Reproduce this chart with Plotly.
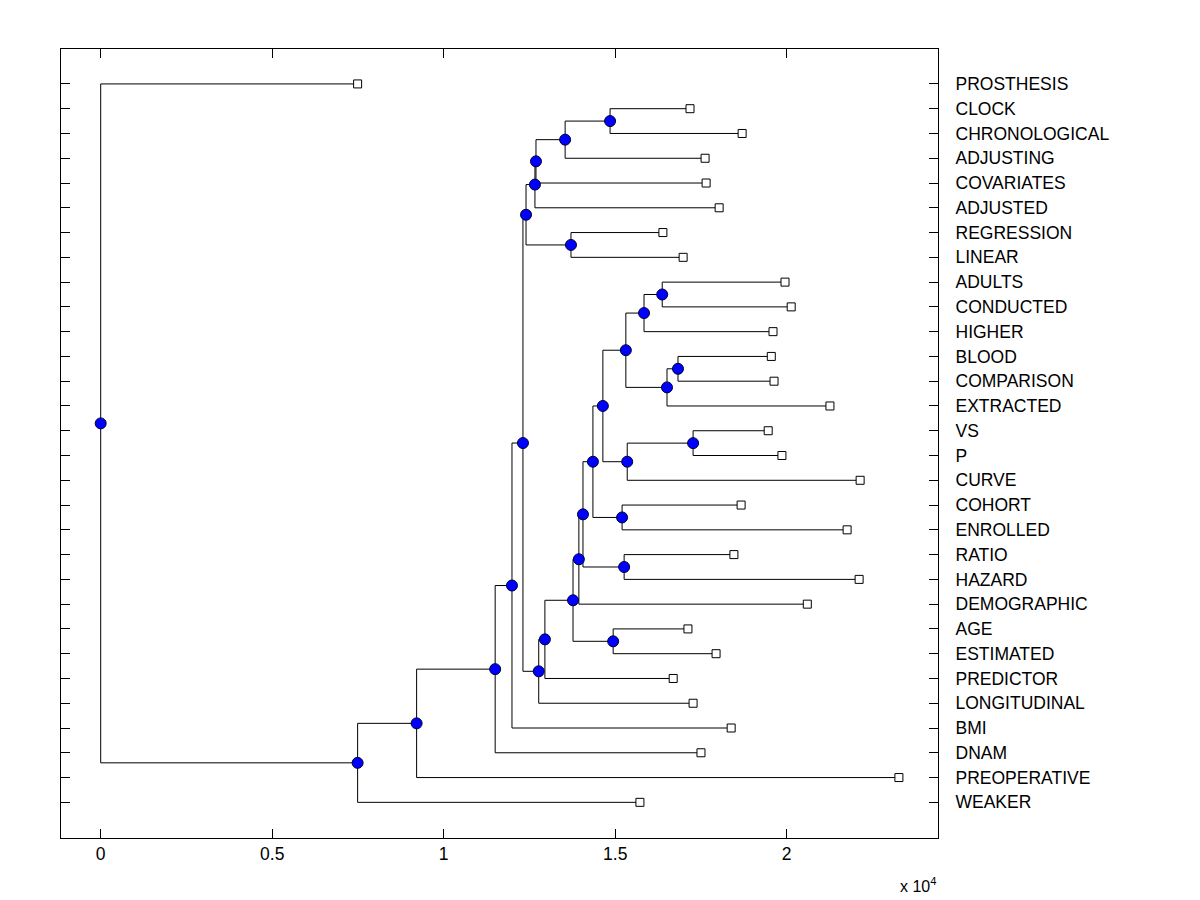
import plotly.graph_objects as go

# leaves, top to bottom, and the x (x 10^4) where each leaf ends
leaf_names = ['PROSTHESIS', 'CLOCK', 'CHRONOLOGICAL', 'ADJUSTING', 'COVARIATES',
              'ADJUSTED', 'REGRESSION', 'LINEAR', 'ADULTS', 'CONDUCTED', 'HIGHER',
              'BLOOD', 'COMPARISON', 'EXTRACTED', 'VS', 'P', 'CURVE', 'COHORT',
              'ENROLLED', 'RATIO', 'HAZARD', 'DEMOGRAPHIC', 'AGE', 'ESTIMATED',
              'PREDICTOR', 'LONGITUDINAL', 'BMI', 'DNAM', 'PREOPERATIVE', 'WEAKER']
leaf_x = [0.749, 1.718, 1.870, 1.762, 1.765, 1.803, 1.639, 1.698, 1.995, 2.013,
          1.960, 1.955, 1.963, 2.126, 1.946, 1.986, 2.214, 1.867, 2.176, 1.846,
          2.211, 2.060, 1.712, 1.794, 1.669, 1.727, 1.838, 1.750, 2.327, 1.572]

# merges: n1, n2, ... in order; children are leaf names or earlier merge ids
merge_left = ['CLOCK', 'n1', 'n2', 'n3', 'REGRESSION', 'n4', 'ADULTS', 'n7',
              'BLOOD', 'n9', 'n8', 'VS', 'n12', 'n11', 'COHORT', 'n14', 'RATIO',
              'n16', 'n18', 'AGE', 'n19', 'n21', 'n22', 'n6', 'n24', 'n25', 'n26',
              'n27', 'PROSTHESIS']
merge_right = ['CHRONOLOGICAL', 'ADJUSTING', 'COVARIATES', 'ADJUSTED', 'LINEAR',
               'n5', 'CONDUCTED', 'HIGHER', 'COMPARISON', 'EXTRACTED', 'n10', 'P',
               'CURVE', 'n13', 'ENROLLED', 'n15', 'HAZARD', 'n17', 'DEMOGRAPHIC',
               'ESTIMATED', 'n20', 'PREDICTOR', 'LONGITUDINAL', 'n23', 'BMI',
               'DNAM', 'PREOPERATIVE', 'WEAKER', 'n28']
merge_x = [1.485, 1.354, 1.269, 1.266, 1.371, 1.240, 1.637, 1.584, 1.683, 1.651,
           1.531, 1.727, 1.535, 1.464, 1.520, 1.435, 1.526, 1.406, 1.394, 1.494,
           1.377, 1.295, 1.277, 1.231, 1.199, 1.150, 0.921, 0.749, 0.0]

x_ticks = [0, 0.5, 1, 1.5, 2]

pos = {}
for i, name in enumerate(leaf_names):
    pos[name] = (leaf_x[i], i + 1)

line_x, line_y = [], []
node_x, node_y = [], []
for k, (a, b, h) in enumerate(zip(merge_left, merge_right, merge_x)):
    ax_, ay = pos[a]
    bx, by = pos[b]
    y = (ay + by) / 2
    pos['n%d' % (k + 1)] = (h, y)
    line_x += [h, h, None, h, ax_, None, h, bx, None]
    line_y += [ay, by, None, ay, ay, None, by, by, None]
    node_x.append(h)
    node_y.append(y)

fig = go.Figure()
fig.add_trace(go.Scatter(
    x=line_x, y=line_y, mode='lines',
    line=dict(color='black', width=1), hoverinfo='skip'
))
fig.add_trace(go.Scatter(
    x=leaf_x, y=list(range(1, len(leaf_names) + 1)), mode='markers',
    marker=dict(symbol='square', size=8, color='white',
                line=dict(color='black', width=1)),
    text=leaf_names, hoverinfo='text'
))
fig.add_trace(go.Scatter(
    x=node_x, y=node_y, mode='markers',
    marker=dict(symbol='circle', size=11, color='#0000FF',
                line=dict(color='#000033', width=1))
))

axis_font = dict(family='Liberation Sans, Arial', size=17.5, color='black')

# page body has an 8px margin, so the figure sits 8px in from the corner
fig.update_layout(
    width=1184, height=892,
    showlegend=False,
    paper_bgcolor='white',
    plot_bgcolor='white',
    margin=dict(l=53, r=254, t=41, b=62),
    font=axis_font,
    xaxis=dict(
        range=[-0.1157, 2.441], tickvals=x_ticks,
        ticktext=[('%g' % v) for v in x_ticks],
        ticks='inside', ticklen=9, tickcolor='black', tickwidth=1,
        showline=True, linecolor='black', linewidth=1, mirror='ticks',
        showgrid=False, zeroline=False, tickfont=axis_font
    ),
    yaxis=dict(
        range=[31.44, -0.41], side='right',
        tickvals=list(range(1, len(leaf_names) + 1)), ticktext=leaf_names,
        ticks='inside', ticklen=9, tickcolor='black', tickwidth=1,
        showline=True, linecolor='black', linewidth=1, mirror='ticks',
        showgrid=False, zeroline=False, tickfont=axis_font,
        ticklabelstandoff=13
    ),
    annotations=[dict(
        text='x 10<sup>4</sup>', xref='paper', yref='paper',
        x=1, y=-0.059, xanchor='right', yanchor='middle', showarrow=False,
        font=dict(family='Liberation Sans, Arial', size=16, color='black')
    )]
)

fig.write_html('out.html')
